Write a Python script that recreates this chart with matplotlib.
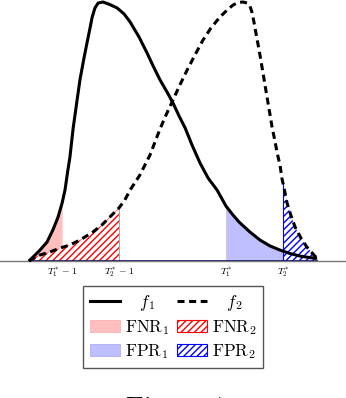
import matplotlib
matplotlib.use("Agg")
import matplotlib.pyplot as plt
from matplotlib.lines import Line2D
from matplotlib.patches import Patch

plt.rcParams['mathtext.fontset'] = 'cm'
plt.rcParams['hatch.linewidth'] = 1.0

# curve f1 (solid)
x1 = [0.0, 0.21, 0.38, 0.625, 0.83, 1.01, 1.15, 1.25, 1.35, 1.42, 1.53, 1.65, 1.77,
      1.91, 2.01, 2.12, 2.19, 2.29, 2.40, 2.57, 2.81, 3.06, 3.30, 3.51, 3.82, 4.10,
      4.31, 4.55, 4.79, 5.00, 5.21, 5.42, 5.66, 5.94, 6.22, 6.53, 6.84, 7.08, 7.29,
      7.67, 8.02, 8.37, 8.72, 9.06, 9.41, 9.76, 10.0]
y1 = [0.0, 0.023, 0.042, 0.073, 0.12, 0.17, 0.224, 0.274, 0.351, 0.40, 0.51, 0.606, 0.70,
      0.784, 0.84, 0.90, 0.94, 0.977, 0.996, 1.0, 0.99, 0.977, 0.954, 0.923, 0.865, 0.803,
      0.753, 0.699, 0.653, 0.61, 0.56, 0.514, 0.448, 0.378, 0.32, 0.274, 0.212, 0.178, 0.151,
      0.112, 0.081, 0.058, 0.042, 0.029, 0.019, 0.013, 0.01]

# curve f2 (dashed)
x2 = [0.0, 0.21, 0.38, 0.73, 1.08, 1.42, 1.77, 2.22, 2.53, 2.81, 3.125, 3.33, 3.51,
      3.85, 4.20, 4.55, 4.76, 5.00, 5.24, 5.49, 5.76, 6.04, 6.32, 6.63, 6.88, 7.08,
      7.26, 7.43, 7.57, 7.67, 7.74, 7.81, 7.88, 7.95, 8.02, 8.09, 8.16, 8.23, 8.30,
      8.37, 8.44, 8.54, 8.61, 8.72, 8.78, 8.82, 8.89, 8.96, 9.10, 9.24, 9.44, 9.65,
      9.83, 10.0]
y2 = [0.0, 0.015, 0.023, 0.035, 0.05, 0.062, 0.081, 0.112, 0.139, 0.17, 0.205, 0.236, 0.274,
      0.332, 0.409, 0.51, 0.564, 0.622, 0.68, 0.737, 0.795, 0.853, 0.90, 0.942, 0.969, 0.988,
      0.998, 1.0, 0.996, 0.985, 0.961, 0.923, 0.880, 0.838, 0.795, 0.749, 0.703, 0.656, 0.61,
      0.564, 0.517, 0.463, 0.421, 0.367, 0.320, 0.30, 0.263, 0.224, 0.174, 0.131, 0.089, 0.054,
      0.031, 0.01]

# thresholds
t1m = 1.15   # T1* - 1
t2m = 3.125  # T2* - 1
t1 = 6.84    # T1*
t2 = 8.82    # T2*
tick_pos = [t1m, t2m, t1, t2]
tick_lab = [r'$T_1^*-1$', r'$T_2^*-1$', r'$T_1^*$', r'$T_2^*$']

W, H = 346, 398
fig = plt.figure(figsize=(W / 100, H / 100), dpi=100)
# axes: x=0 at px 29, x=10 at px 317 ; y=0 at py 261, y=1 at py 2
ax = fig.add_axes([0, (H - 261) / H, 1, 259 / H])
ax.set_xlim((0 - 29) / 28.8, (W - 29) / 28.8)
ax.set_ylim(0, 1)
for s in ax.spines.values():
    s.set_visible(False)
ax.set_yticks([])
ax.set_xticks(tick_pos)
ax.set_xticklabels(tick_lab, fontsize=7)
ax.tick_params(axis='x', length=0, pad=3)

pink = '#ffbfbf'
lblue = '#bfbfff'

def sub(xs, ys, lo, hi):
    px = [a for a in xs if lo <= a <= hi]
    py = [b for a, b in zip(xs, ys) if lo <= a <= hi]
    return px, py

# FNR1 and FPR1 (plain fills under f1)
px, py = sub(x1, y1, 0, t1m)
ax.fill_between(px, 0, py, color=pink, lw=0, zorder=1)
px, py = sub(x1, y1, t1, 10)
ax.fill_between(px, 0, py, facecolor=lblue, edgecolor='#c8c8c8', lw=0.6, zorder=1)

# FNR2 and FPR2 (hatched fills under f2)
px, py = sub(x2, y2, 0, t2m)
ax.fill_between(px, 0, py, facecolor='white', edgecolor='red', hatch='/////', lw=0, zorder=2)
ax.plot([t2m, t2m], [0, py[-1]], color='#999999', lw=0.6, zorder=2)
px, py = sub(x2, y2, t2, 10)
ax.fill_between(px, 0, py, facecolor='white', edgecolor='blue', hatch='/////', lw=0, zorder=2)
ax.plot([t2, t2], [0, py[0]], color='blue', lw=0.8, zorder=2)

ax.axhline(0, color='#777777', lw=1.0, zorder=3, clip_on=False)
ax.plot([0, 10], [0, 0], color='#1a1a66', lw=1.2, zorder=3)

ax.plot(x1, y1, color='black', lw=2.2, zorder=5, clip_on=False,
        solid_capstyle='butt', solid_joinstyle='round')
ax.plot(x2, y2, color='black', lw=2.2, dashes=(2.3, 1.5), zorder=5, clip_on=False)

handles = [
    Line2D([], [], color='black', lw=2.2),
    Patch(facecolor=pink, edgecolor='#ffb0b0', lw=0.6),
    Patch(facecolor=lblue, edgecolor='#b0b0f0', lw=0.6),
    Line2D([], [], color='black', lw=2.2, dashes=(2.3, 1.5)),
    Patch(facecolor='white', edgecolor='red', hatch='/////', lw=0.8),
    Patch(facecolor='white', edgecolor='blue', hatch='/////', lw=0.8),
]
labels = [r'$\quad f_1$', r'$\mathrm{FNR}_1$', r'$\mathrm{FPR}_1$',
          r'$\quad f_2$', r'$\mathrm{FNR}_2$', r'$\mathrm{FPR}_2$']
leg = fig.legend(handles, labels, ncol=2, loc='center',
                 bbox_to_anchor=(173 / W, 1 - 327 / H), fontsize=12.3,
                 frameon=True, fancybox=False, framealpha=1, edgecolor='#555555',
                 handlelength=1.75, handleheight=0.75, handletextpad=0.3,
                 columnspacing=0.45, labelspacing=0.28, borderpad=0.4)
leg.get_frame().set_linewidth(1.0)

fig.text(175 / W, 1 - 410 / H, r'$\mathrm{Figure\ 1}$', fontsize=20,
         ha='center', va='center')

fig.savefig('out.png', dpi=100)
